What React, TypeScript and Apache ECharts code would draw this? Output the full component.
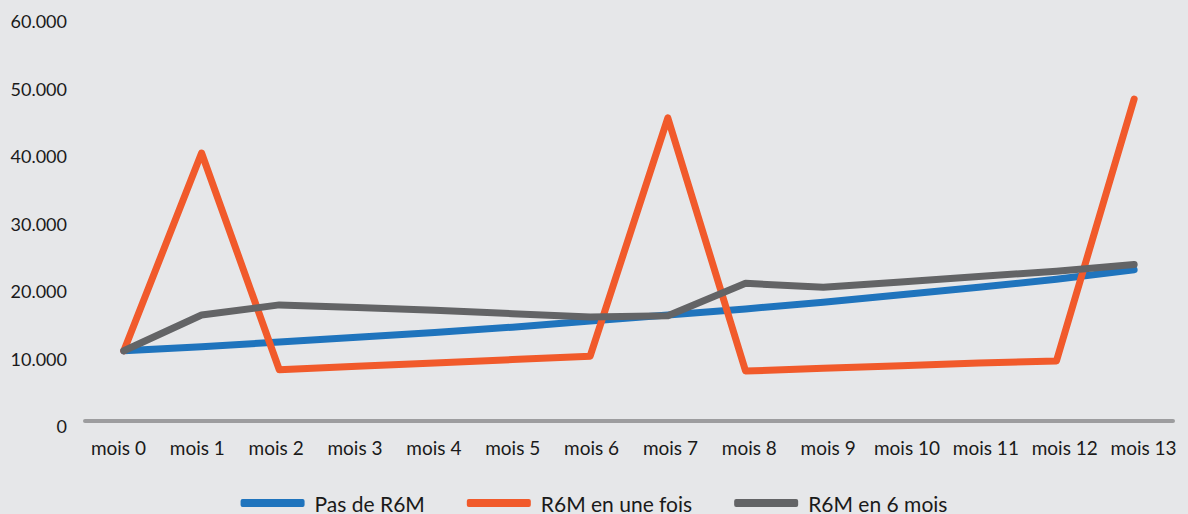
import React, { useEffect, useRef } from "react";
import * as echarts from "echarts";

const categories = ["mois 0", "mois 1", "mois 2", "mois 3", "mois 4", "mois 5", "mois 6", "mois 7", "mois 8", "mois 9", "mois 10", "mois 11", "mois 12", "mois 13"];
const pasDeR6M = [10400, 11000, 11700, 12400, 13100, 13900, 14800, 15700, 16600, 17600, 18700, 19800, 21000, 22400];
const r6mUneFois = [10400, 39700, 7600, 8100, 8600, 9100, 9600, 44900, 7400, 7800, 8200, 8600, 8900, 47700];
const r6mSixMois = [10400, 15700, 17200, 16800, 16400, 15900, 15400, 15600, 20400, 19800, 20600, 21400, 22200, 23200];
const seriesNames = ["Pas de R6M", "R6M en une fois", "R6M en 6 mois"];
const colors = ["#1f74bd", "#f15a2b", "#636466"];

export default function App() {
  const ref = useRef<HTMLDivElement>(null);
  useEffect(() => {
    if (!ref.current) return;
    const chart = echarts.init(ref.current, null, { renderer: "svg" });
    const font = "Lato";
    const mk = (name: string, data: number[], color: string) => ({
      name,
      type: "line",
      data,
      symbol: "none",
      xAxisIndex: 0,
      yAxisIndex: 0,
      lineStyle: { color, width: 7, cap: "round", join: "round" },
      itemStyle: { color },
    });
    chart.setOption({
      animation: false,
      backgroundColor: "#e6e7e9",
      color: colors,
      textStyle: { fontFamily: font },
      grid: [
        { left: 85, right: 15, top: 16, bottom: 93, containLabel: false },
        { left: 79, right: 5, top: 16, bottom: 93, containLabel: false },
      ],
      legend: {
        bottom: 0,
        left: "center",
        padding: 0,
        itemWidth: 64,
        itemHeight: 8,
        itemGap: 42,
        icon: "roundRect",
        textStyle: { fontFamily: font, fontSize: 21, lineHeight: 22, color: "#1a1a1a", padding: [0, 0, 0, 5] },
        data: seriesNames,
      },
      xAxis: [
        {
          type: "category",
          gridIndex: 0,
          data: categories,
          boundaryGap: true,
          axisLine: { lineStyle: { color: "#9d9d9f", width: 4, cap: "round" } },
          axisTick: { show: false },
          axisLabel: { show: false },
        },
        {
          type: "category",
          gridIndex: 1,
          data: categories,
          boundaryGap: true,
          axisLine: { show: false },
          axisTick: { show: false },
          axisLabel: { interval: 0, fontFamily: font, fontSize: 19, color: "#1a1a1a", margin: 17 },
        },
      ],
      yAxis: [
        {
          type: "value",
          gridIndex: 0,
          min: 0,
          max: 60000,
          interval: 10000,
          splitLine: { show: false },
          axisLine: { show: false },
          axisTick: { show: false },
          axisLabel: {
            fontFamily: font,
            fontSize: 18,
            color: "#1a1a1a",
            margin: 18,
            formatter: (v: number) => "{a|" + (v === 0 ? "0" : (v / 1000).toFixed(0) + ".000") + "}",
            rich: { a: { fontFamily: font, fontSize: 18, color: "#1a1a1a", padding: [10, 0, 0, 0] } },
          },
        },
        {
          type: "value",
          gridIndex: 1,
          min: 0,
          max: 60000,
          interval: 10000,
          show: false,
        },
      ],
      series: [
        mk(seriesNames[0], pasDeR6M, colors[0]),
        mk(seriesNames[1], r6mUneFois, colors[1]),
        mk(seriesNames[2], r6mSixMois, colors[2]),
      ],
    });
    return () => chart.dispose();
  }, []);
  return <div ref={ref} style={{ position: "fixed", left: 0, top: 0, width: 1188, height: 514 }} />;
}
